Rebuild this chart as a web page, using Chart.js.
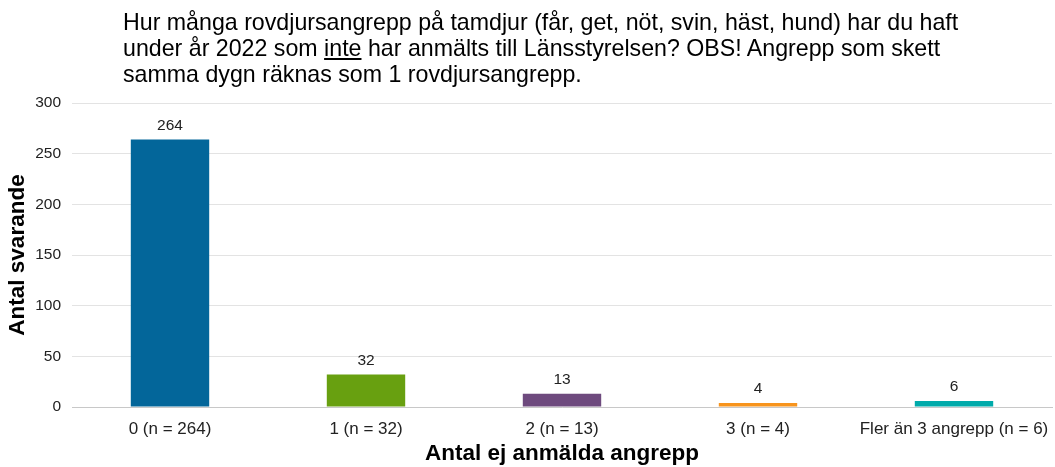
<!DOCTYPE html>
<html>
<head>
<meta charset="utf-8">
<script src="https://cdn.jsdelivr.net/npm/chart.js@4/dist/chart.umd.min.js"></script>
<style>
  html, body { margin:0; padding:0; background:#fff; }
  #wrap { position:relative; width:1055px; height:467px; }
  #title {
    position:absolute; left:123px; top:9px;
    font-family:"Liberation Sans", Arial, sans-serif; font-size:23.2px; line-height:26px;
    color:#000; white-space:nowrap;
  }
  #title u { text-underline-offset:2px; }
  canvas { position:absolute; left:0; top:0; }
</style>
</head>
<body>
<div id="wrap">
  <canvas id="chart" width="1055" height="467"></canvas>
  <div id="title">Hur många rovdjursangrepp på tamdjur (får, get, nöt, svin, häst, hund) har du haft<br>under år 2022 som <u>inte</u> har anmälts till Länsstyrelsen? OBS! Angrepp som skett<br>samma dygn räknas som 1 rovdjursangrepp.</div>
</div>
<script>
const categories = ["0 (n = 264)", "1 (n = 32)", "2 (n = 13)", "3 (n = 4)", "Fler än 3 angrepp (n = 6)"];
const answers = [264, 32, 13, 4, 6];
const yTicks = [0, 50, 100, 150, 200, 250, 300];

const COLORS = ["#03669a", "#68a010", "#6e4a7e", "#f7941d", "#00aaaa"];
const FONT = "'Liberation Sans', Arial, sans-serif";

// value labels above each bar
const barLabels = {
  id: "barLabels",
  afterDatasetsDraw(chart){
    const ctx = chart.ctx;
    const meta = chart.getDatasetMeta(0);
    ctx.save();
    ctx.font = "15.5px " + FONT;
    ctx.fillStyle = "#222";
    ctx.textAlign = "center";
    ctx.textBaseline = "bottom";
    meta.data.forEach((bar, i) => {
      ctx.fillText(String(answers[i]), bar.x, bar.y - 6);
    });
    ctx.restore();
  }
};

new Chart(document.getElementById("chart"), {
  type: "bar",
  data: {
    labels: categories,
    datasets: [{
      data: answers,
      backgroundColor: COLORS,
      categoryPercentage: 1,
      barPercentage: 0.4
    }]
  },
  plugins: [barLabels],
  options: {
    responsive: false,
    animation: false,
    layout: { padding: { top: 103, right: 3, left: 0, bottom: 0 } },
    plugins: { legend: { display: false }, tooltip: { enabled: false } },
    scales: {
      x: {
        grid: { display: false, drawTicks: false },
        border: { color: "#c8c8c8", width: 1 },
        ticks: { color: "#222", font: { family: FONT, size: 17 }, padding: 12, maxRotation: 0, autoSkip: false },
        title: { display: true, text: "Antal ej anmälda angrepp", color: "#000",
                 font: { family: FONT, size: 22.5, weight: "bold" }, padding: { top: 0, bottom: 0 } },
        afterFit(scale){
          scale.height = 60;
          scale.paddingLeft = 0;
          scale.paddingRight = 0;
        }
      },
      y: {
        min: 0, max: 300,
        afterBuildTicks(scale){ scale.ticks = yTicks.map(v => ({ value: v })); },
        grid: { color: "#e3e3e3", drawTicks: false },
        border: { display: false },
        ticks: { color: "#222", font: { family: FONT, size: 15.5 }, padding: 11 },
        title: { display: true, text: "Antal svarande", color: "#000",
                 font: { family: FONT, size: 22.5, weight: "bold" }, padding: { top: 4, bottom: 0 } },
        afterFit(scale){ scale.width = 72; }
      }
    }
  }
});
</script>
</body>
</html>
